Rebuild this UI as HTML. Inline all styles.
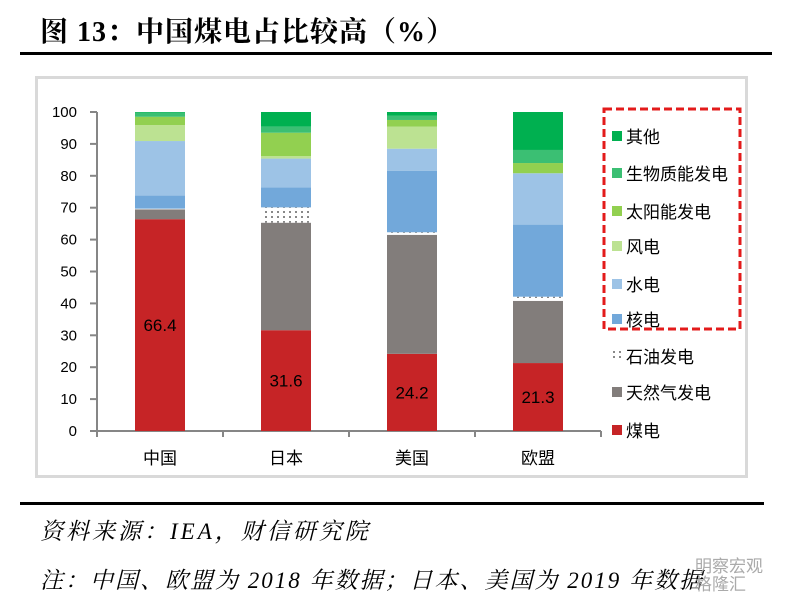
<!DOCTYPE html>
<html><head><meta charset="utf-8"><style>
body{margin:0;width:793px;height:602px;background:#fff;overflow:hidden;position:relative;font-family:"Liberation Serif","Noto Serif CJK SC",serif}
.abs{position:absolute}
</style></head><body>
<div class="abs" style="left:40px;top:10px;font-size:28px;font-weight:bold;letter-spacing:1px">图 13：中国煤电占比较高（%）</div>
<div class="abs" style="left:20px;top:52px;width:752px;height:3px;background:#000"></div>
<div class="abs" style="left:35px;top:76px;width:707px;height:396px;border:3px solid #d9d9d9"></div>
<svg class="abs" style="left:0;top:0" width="793" height="602" id="svg"></svg>
<div class="abs" style="left:20px;top:502px;width:744px;height:3px;background:#000"></div>
<div class="abs" style="left:40px;top:513px;font-size:23px;letter-spacing:3px;font-style:italic">资料来源：IEA，财信研究院</div>
<div class="abs" style="left:40px;top:562px;font-size:23px;letter-spacing:2px;font-style:italic">注：中国、欧盟为 2018 年数据；日本、美国为 2019 年数据</div>
<div class="abs" style="left:695px;top:558px;font-size:17px;color:#aaa;font-family:'Liberation Sans','Noto Sans CJK SC',sans-serif;line-height:18px">明察宏观<br>格隆汇</div>
<script>
const categories=["中国","日本","美国","欧盟"];
const seriesNames=["煤电","天然气发电","石油发电","核电","水电","风电","太阳能发电","生物质能发电","其他"];
const coal=[66.4,31.6,24.2,21.3];
const gas=[3.1,33.7,37.3,19.5];
const oil=[0.2,4.8,0.8,1.3];
const nuclear=[4.1,6.3,19.3,22.6];
const hydro=[17.1,9.0,6.9,16.1];
const wind=[5.0,0.8,6.9,0];
const solar=[2.6,7.3,2.1,3.2];
const bio=[1.3,1.9,1.3,4.1];
const other=[0.2,4.6,1.2,11.9];
const yTicks=[0,10,20,30,40,50,60,70,80,90,100];
const colors=["#c62426","#827d7b","dots","#72a8da","#9dc3e6","#bce292","#92d050","#3bbf73","#00b050"];
const series=[coal,gas,oil,nuclear,hydro,wind,solar,bio,other];
const NS="http://www.w3.org/2000/svg",svg=document.getElementById('svg');
const x0=97,bandW=126,y0=431,yTop=112;
const yS=v=>y0-(y0-yTop)*v/100;
const xC=i=>x0+bandW*(i+0.5);
function mk(t,a,p){const e=document.createElementNS(NS,t);for(const k in a)e.setAttribute(k,a[k]);(p||svg).appendChild(e);return e;}
const defs=mk('defs',{});const pat=mk('pattern',{id:'dots',width:6,height:5,patternUnits:'userSpaceOnUse'},defs);
mk('rect',{width:6,height:5,fill:'#fff'},pat);mk('rect',{x:1,y:1,width:2,height:2,fill:'#888'},pat);
mk('line',{x1:x0,y1:yTop,x2:x0,y2:y0,stroke:'#868686','stroke-width':2});
mk('line',{x1:x0,y1:y0,x2:x0+bandW*4,y2:y0,stroke:'#868686','stroke-width':2});
yTicks.forEach(t=>{const y=yS(t);
 const l=mk('line',{x1:x0-7,y1:y,x2:x0,y2:y,stroke:'#868686','stroke-width':2});
 const tx=mk('text',{x:x0-20,y:y+5,'text-anchor':'end','font-size':15,'font-family':'Liberation Sans,sans-serif'});tx.textContent=t;});
for(let i=0;i<=4;i++){mk('line',{x1:x0+bandW*i,y1:y0,x2:x0+bandW*i,y2:y0+6,stroke:'#868686','stroke-width':2});}
categories.forEach((c,i)=>{let acc=0;
 series.forEach((s,k)=>{const v=s[i];if(v<=0)return;const yt=yS(acc+v),yb=yS(acc);acc+=v;
  const r=mk('rect',{x:xC(i)-25,y:yt,width:50,height:yb-yt,fill:colors[k]=='dots'?'url(#dots)':colors[k]});
  });
 const lbl=mk('text',{x:xC(i),y:(yS(coal[i])+y0)/2+6,'text-anchor':'middle','font-size':17,'font-family':'Liberation Sans,sans-serif'});lbl.textContent=coal[i];
 
 const ct=mk('text',{x:xC(i),y:464,'text-anchor':'middle','font-size':17,'font-family':'Noto Sans CJK SC,sans-serif'});ct.textContent=c;
 });
const box=mk('rect',{x:604,y:109,width:136,height:220,fill:'none',stroke:'#e31b1b','stroke-width':3,'stroke-dasharray':'8,4'});

const legY=[431,393,357,320,285,247,212,174,137];
seriesNames.forEach((n,k)=>{const y=legY[k];const g=mk('g',{});
 mk('rect',{x:612,y:y-6,width:10,height:10,fill:colors[k]=='dots'?'url(#dots)':colors[k]},g);
 const t=mk('text',{x:626,y:y+6,'font-size':17,'font-family':'Noto Sans CJK SC,sans-serif'},g);t.textContent=n;});
</script>
</body></html>
